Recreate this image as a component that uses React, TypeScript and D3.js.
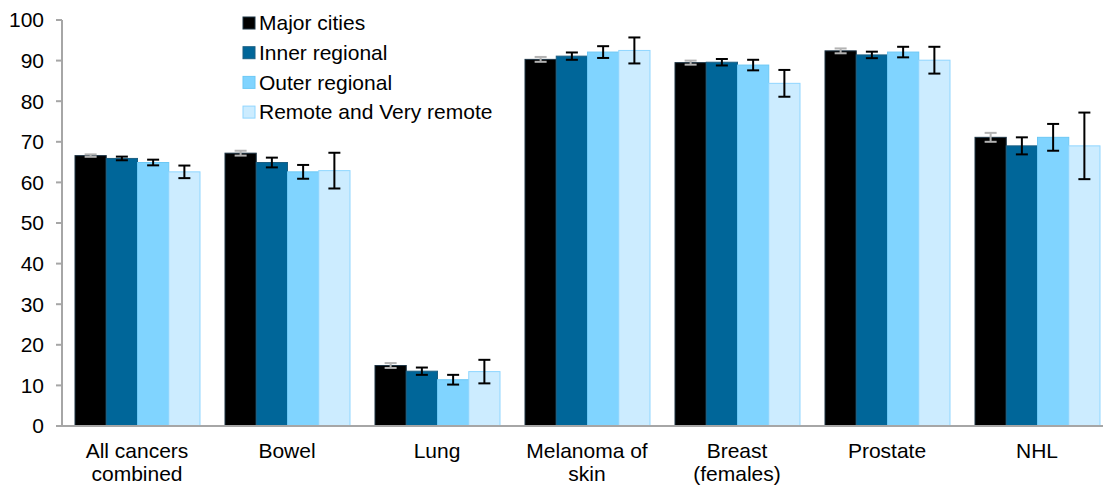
import React from "react";
import * as d3 from "d3";

const categories = ["All cancers\ncombined", "Bowel", "Lung", "Melanoma of\nskin", "Breast\n(females)", "Prostate", "NHL"];
const seriesNames = ["Major cities", "Inner regional", "Outer regional", "Remote and Very remote"];

// survival (%) per series, in category order
const majorCities = [66.6, 67.2, 14.9, 90.3, 89.5, 92.4, 71.1];
const innerRegional = [65.9, 64.9, 13.5, 91.1, 89.6, 91.4, 69.0];
const outerRegional = [64.9, 62.6, 11.4, 92.1, 88.9, 92.1, 71.1];
const remote = [62.6, 62.9, 13.4, 92.5, 84.4, 90.1, 69.0];

// half-width of the confidence interval
const majorErr = [0.3, 0.6, 0.6, 0.6, 0.5, 0.6, 1.1];
const innerErr = [0.45, 1.2, 0.9, 0.9, 0.8, 0.8, 2.1];
const outerErr = [0.7, 1.7, 1.2, 1.45, 1.3, 1.3, 3.3];
const remoteErr = [1.55, 4.4, 2.9, 3.2, 3.3, 3.3, 8.2];

const yTicks = [0, 10, 20, 30, 40, 50, 60, 70, 80, 90, 100];

const values = [majorCities, innerRegional, outerRegional, remote];
const errors = [majorErr, innerErr, outerErr, remoteErr];
const fills = ["#000000", "#006699", "#80D4FF", "#CCECFF"];
const strokes = ["#1d3444", "#1b5f83", "#6cc8f5", "#8fd6ff"];
const errColors = ["#b3b3b3", "#000000", "#000000", "#000000"];

const width = 1103;
const height = 487;
const font = "'Liberation Sans', Arial, sans-serif";
const fs = 21;

export default function App() {
  const x = d3.scaleBand<number>().domain(d3.range(categories.length)).range([62, 1112]).padding(0);
  const bw = x.bandwidth();
  const sub = d3.scaleBand<number>().domain(d3.range(seriesNames.length)).range([13, bw - 12]).padding(0);
  const y = d3.scaleLinear().domain([0, 100]).range([426, 20]);

  return (
    <svg width={width} height={height} style={{ position: "absolute", left: 0, top: 0, background: "#fff" }}>
      {/* bars */}
      {values.map((vals, s) =>
        vals.map((v, i) => (
          <rect
            key={`b${s}-${i}`}
            x={(x(i) as number) + (sub(s) as number)}
            y={y(v)}
            width={sub.bandwidth()}
            height={y(0) - y(v)}
            fill={fills[s]}
            stroke={strokes[s]}
            strokeWidth={1}
          />
        ))
      )}
      {/* error bars */}
      {values.map((vals, s) =>
        vals.map((v, i) => {
          const cx = (x(i) as number) + (sub(s) as number) + sub.bandwidth() / 2;
          const lo = y(v - errors[s][i]);
          const hi = y(v + errors[s][i]);
          return (
            <g key={`e${s}-${i}`} stroke={errColors[s]} strokeWidth={2} fill="none">
              <line x1={cx} x2={cx} y1={lo} y2={hi} />
              <line x1={cx - 6} x2={cx + 6} y1={lo} y2={lo} />
              <line x1={cx - 6} x2={cx + 6} y1={hi} y2={hi} />
            </g>
          );
        })
      )}
      {/* axes */}
      <line x1={62} x2={1112} y1={y(0)} y2={y(0)} stroke="#a6a6a6" strokeWidth={2} />
      <line x1={62} x2={62} y1={y(0)} y2={y(100)} stroke="#a6a6a6" strokeWidth={2} />
      {yTicks.map((t) => (
        <g key={`t${t}`}>
          <line x1={56} x2={62} y1={y(t)} y2={y(t)} stroke="#a6a6a6" strokeWidth={2} />
          <text x={44} y={y(t)} dy="0.35em" textAnchor="end" fontFamily={font} fontSize={fs} fill="#000">
            {t}
          </text>
        </g>
      ))}
      {categories.map((c, i) => (
        <text key={`c${i}`} textAnchor="middle" fontFamily={font} fontSize={fs} fill="#000">
          {c.split("\n").map((line, k) => (
            <tspan key={k} x={(x(i) as number) + bw / 2} y={458 + k * 23}>
              {line}
            </tspan>
          ))}
        </text>
      ))}
      {/* legend */}
      {seriesNames.map((n, s) => (
        <g key={`l${s}`} transform={`translate(243,${23 + s * 29.7})`}>
          <rect x={0} y={-6} width={12} height={12} fill={fills[s]} stroke={strokes[s]} strokeWidth={1} />
          <text x={16} y={0} dy="0.35em" fontFamily={font} fontSize={fs} fill="#000">
            {n}
          </text>
        </g>
      ))}
    </svg>
  );
}
